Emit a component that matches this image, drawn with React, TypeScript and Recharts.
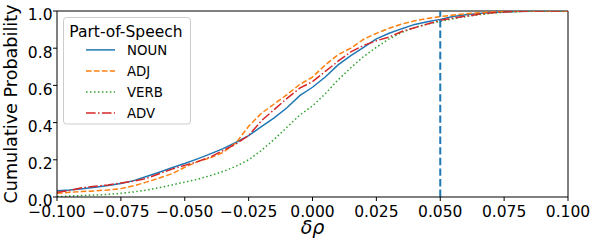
import React from 'react';
import { LineChart, Line, XAxis, YAxis, ReferenceLine, Legend } from 'recharts';

const X_VALUES = [
  -0.1, -0.095, -0.09, -0.085, -0.08, -0.075, -0.07, -0.065, -0.06, -0.055,
  -0.05, -0.045, -0.04, -0.035, -0.03, -0.025, -0.02, -0.015, -0.01, -0.005,
  0, 0.005, 0.01, 0.015, 0.02, 0.025, 0.03, 0.035, 0.04, 0.045,
  0.05, 0.055, 0.06, 0.065, 0.07, 0.075, 0.08, 0.085, 0.09, 0.095, 0.1,
];

const NOUN = [
  0.033, 0.038, 0.045, 0.053, 0.062, 0.073, 0.088, 0.11, 0.133, 0.157,
  0.18, 0.205, 0.232, 0.26, 0.293, 0.33, 0.378, 0.425, 0.48, 0.545,
  0.59, 0.645, 0.71, 0.76, 0.805, 0.85, 0.88, 0.905, 0.928, 0.942,
  0.955, 0.97, 0.98, 0.986, 0.992, 0.995, 0.997, 0.999, 1, 1, 1,
];

const ADJ = [
  0.02, 0.025, 0.03, 0.033, 0.038, 0.045, 0.06, 0.08, 0.102, 0.125,
  0.16, 0.19, 0.21, 0.24, 0.29, 0.38, 0.45, 0.5, 0.55, 0.605,
  0.645, 0.71, 0.765, 0.8, 0.848, 0.88, 0.907, 0.93, 0.947, 0.96,
  0.97, 0.978, 0.985, 0.99, 0.994, 0.997, 0.999, 1, 1, 1, 1,
];

const VERB = [
  0.002, 0.005, 0.008, 0.011, 0.014, 0.02, 0.027, 0.037, 0.05, 0.065,
  0.08, 0.095, 0.115, 0.137, 0.165, 0.2, 0.25, 0.31, 0.375, 0.44,
  0.49, 0.555, 0.63, 0.695, 0.755, 0.805, 0.85, 0.885, 0.912, 0.93,
  0.944, 0.958, 0.97, 0.98, 0.988, 0.994, 0.997, 0.999, 1, 1, 1,
];

const ADV = [
  0.025, 0.035, 0.05, 0.058, 0.065, 0.075, 0.085, 0.1, 0.125, 0.15,
  0.17, 0.19, 0.215, 0.25, 0.285, 0.33, 0.41, 0.47, 0.53, 0.585,
  0.62, 0.675, 0.73, 0.78, 0.815, 0.84, 0.86, 0.89, 0.91, 0.93,
  0.95, 0.962, 0.972, 0.982, 0.99, 0.995, 0.998, 1, 1, 1, 1,
];

const X_TICKS = [-0.1, -0.075, -0.05, -0.025, 0, 0.025, 0.05, 0.075, 0.1];
const X_TICK_LABELS = ['\u22120.100', '\u22120.075', '\u22120.050', '\u22120.025', '0.000', '0.025', '0.050', '0.075', '0.100'];
const Y_TICKS = [0, 0.2, 0.4, 0.6, 0.8, 1.0];
const Y_TICK_LABELS = ['0.0', '0.2', '0.4', '0.6', '0.8', '1.0'];
const THRESHOLD = 0.05;

const SERIES = [
  { key: 'noun', name: 'NOUN', color: '#1f77b4', dash: undefined as string | undefined },
  { key: 'adj', name: 'ADJ', color: '#ff7f0e', dash: '5.55 2.4' },
  { key: 'verb', name: 'VERB', color: '#2ca02c', dash: '1.5 2.475' },
  { key: 'adv', name: 'ADV', color: '#d62728', dash: '9.6 2.4 1.5 2.4' },
];

const data = X_VALUES.map((x, i) => ({
  x,
  noun: NOUN[i],
  adj: ADJ[i],
  verb: VERB[i],
  adv: ADV[i],
}));

const FONT = '"DejaVu Sans", sans-serif';

const XTick = (props: any) => {
  const { x, y, payload } = props;
  const idx = X_TICKS.indexOf(payload.value);
  return (
    <text x={x} y={y} dy={15.7} textAnchor="middle" fontFamily={FONT} fontSize={15.5} fill="#000">
      {idx >= 0 ? X_TICK_LABELS[idx] : payload.value}
    </text>
  );
};

const YTick = (props: any) => {
  const { x, y, payload } = props;
  const idx = Y_TICKS.indexOf(payload.value);
  return (
    <text x={x - 0.5} y={y} dy={9.3} textAnchor="end" fontFamily={FONT} fontSize={15.5} fill="#000">
      {idx >= 0 ? Y_TICK_LABELS[idx] : payload.value}
    </text>
  );
};

const LegendBox = () => (
  <svg width={129} height={109} style={{ display: 'block' }}>
    <rect x={0.5} y={0.5} width={127} height={106.5} rx={3} ry={3} fill="#fff" fillOpacity={0.8} stroke="#cccccc" strokeWidth={1} />
    <text x={6.3} y={20.3} fontFamily={FONT} fontSize={15.5} fill="#000">Part-of-Speech</text>
    {SERIES.map((s, i) => {
      const base = 37.9 + i * 21;
      return (
        <g key={s.key}>
          <line x1={23} x2={52} y1={base - 5} y2={base - 5} stroke={s.color} strokeWidth={1.5} strokeDasharray={s.dash} />
          <text x={64} y={base} fontFamily={FONT} fontSize={13.3} fill="#000">{s.name}</text>
        </g>
      );
    })}
  </svg>
);

export default function App() {
  return (
    <div style={{ position: 'absolute', left: 0, top: 0, width: 590, height: 244, background: '#fff' }}>
      <LineChart width={590} height={244} data={data} margin={{ top: 11, right: 22, bottom: 0, left: 0 }}>
        <XAxis
          type="number"
          dataKey="x"
          domain={[-0.1, 0.1]}
          ticks={X_TICKS}
          allowDataOverflow
          height={47}
          tickSize={4}
          tickMargin={0}
          axisLine={{ stroke: '#000', strokeWidth: 1 }}
          tickLine={{ stroke: '#000', strokeWidth: 1 }}
          tick={<XTick />}
          label={{
            content: (p: any) => {
              const vb = p.viewBox || { x: 57, y: 197, width: 511 };
              return (
                <text x={vb.x + vb.width / 2} y={vb.y + 37} textAnchor="middle" fontFamily={FONT} fontStyle="italic" fontSize={19} fill="#000">
                  δρ
                </text>
              );
            },
          }}
        />
        <YAxis
          type="number"
          domain={[0, 1]}
          ticks={Y_TICKS}
          allowDataOverflow
          width={57}
          tickSize={4}
          tickMargin={0}
          axisLine={{ stroke: '#000', strokeWidth: 1 }}
          tickLine={{ stroke: '#000', strokeWidth: 1 }}
          tick={<YTick />}
          label={{
            content: (p: any) => {
              const vb = p.viewBox || { x: 0, y: 11, height: 186 };
              const cy = vb.y + vb.height / 2;
              return (
                <text x={16.5} y={cy} transform={`rotate(-90, 16.5, ${cy})`} textAnchor="middle" fontFamily={FONT} fontSize={17.6} fill="#000">
                  Cumulative Probability
                </text>
              );
            },
          }}
        />
        <ReferenceLine y={1} stroke="#000" strokeWidth={1} />
        <ReferenceLine x={0.1} stroke="#000" strokeWidth={1} />
        {SERIES.map((s) => (
          <Line
            key={s.key}
            type="linear"
            dataKey={s.key}
            name={s.name}
            stroke={s.color}
            strokeWidth={1.5}
            strokeDasharray={s.dash}
            dot={false}
            activeDot={false}
            isAnimationActive={false}
          />
        ))}
        <ReferenceLine x={THRESHOLD} stroke="#1f77b4" strokeWidth={2} strokeDasharray="7.4 3.2" />
        <Legend
          layout="vertical"
          align="center"
          verticalAlign="middle"
          content={() => <LegendBox />}
          wrapperStyle={{ left: 63, top: 17, width: 129, height: 109 }}
        />
      </LineChart>
    </div>
  );
}
